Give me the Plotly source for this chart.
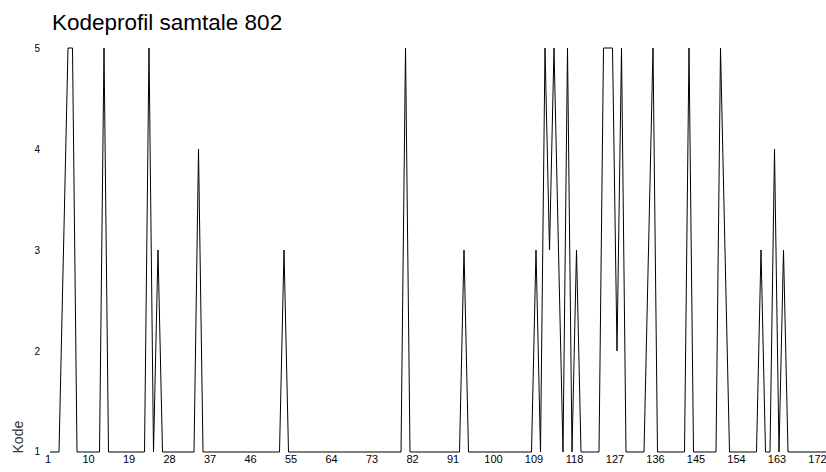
import plotly.graph_objects as go

title_text = "Kodeprofil samtale 802"
y_title = "Kode"

utterance = list(range(1, 176))
kode = [
    1, 1, 1, 3, 5, 5, 1, 1, 1, 1,
    1, 1, 5, 1, 1, 1, 1, 1, 1, 1,
    1, 1, 5, 1, 3, 1, 1, 1, 1, 1,
    1, 1, 1, 4, 1, 1, 1, 1, 1, 1,
    1, 1, 1, 1, 1, 1, 1, 1, 1, 1,
    1, 1, 3, 1, 1, 1, 1, 1, 1, 1,
    1, 1, 1, 1, 1, 1, 1, 1, 1, 1,
    1, 1, 1, 1, 1, 1, 1, 1, 1, 5,
    1, 1, 1, 1, 1, 1, 1, 1, 1, 1,
    1, 1, 3, 1, 1, 1, 1, 1, 1, 1,
    1, 1, 1, 1, 1, 1, 1, 1, 3, 1,
    5, 3, 5, 3, 1, 5, 1, 3, 1, 1,
    1, 1, 1, 5, 5, 5, 2, 5, 1, 1,
    1, 1, 1, 3, 5, 1, 1, 1, 1, 1,
    1, 1, 5, 1, 1, 1, 1, 1, 1, 5,
    3, 1, 1, 1, 1, 1, 1, 1, 3, 1,
    1, 4, 1, 3, 1, 1, 1, 1, 1, 1,
    1, 1, 1, 1, 1,
]

x_tickvals = [1, 10, 19, 28, 37, 46, 55, 64, 73, 82, 91, 100, 109, 118, 127, 136, 145, 154, 163, 172]
x_ticktext = [str(v) for v in x_tickvals]
y_tickvals = [1, 2, 3, 4, 5]

FONT = "Arial, 'Liberation Sans', sans-serif"

fig = go.Figure()
fig.add_trace(go.Scatter(
    x=utterance, y=kode, mode="lines",
    line=dict(color="#000000", width=1),
    hoverinfo="skip", showlegend=False,
))

fig.update_layout(
    width=826, height=472,
    margin=dict(l=50, r=0, t=47, b=19),
    paper_bgcolor="white", plot_bgcolor="white",
    font=dict(family=FONT, color="#000000"),
    title=dict(text=title_text, x=52 / 826, xanchor="left", xref="container",
               y=1 - 22 / 472, yanchor="middle", yref="container",
               font=dict(size=22.5, family=FONT, color="#000000")),
    showlegend=False,
)
fig.update_xaxes(
    range=[1, 1 + 776 / 4.5],
    tickmode="array", tickvals=x_tickvals, ticktext=x_ticktext,
    showgrid=False, zeroline=False, showline=False,
    ticks="", ticklabelstandoff=-2,
    tickfont=dict(size=11, family=FONT, color="#000000"),
    ticklabelshift=-2, ticklabeloverflow="allow",
)
fig.update_yaxes(
    range=[0.99, 5.01],
    tickmode="array", tickvals=y_tickvals,
    showgrid=False, zeroline=False, showline=False,
    ticks="outside", ticklen=7, tickcolor="rgba(0,0,0,0)",
    tickfont=dict(size=10, family=FONT, color="#000000"),
)
fig.add_annotation(
    text=y_title, textangle=-90,
    xref="paper", yref="paper",
    x=-(50 - 17.5) / 776, y=(452 - 437) / 406 + 0.0025,
    xanchor="center", yanchor="middle", showarrow=False,
    font=dict(size=14, family=FONT, color="#333333"),
)

fig.write_html(
    "out.html",
    config={"displayModeBar": False},
    post_script="document.body.style.margin='0';document.body.style.overflow='hidden';",
)
